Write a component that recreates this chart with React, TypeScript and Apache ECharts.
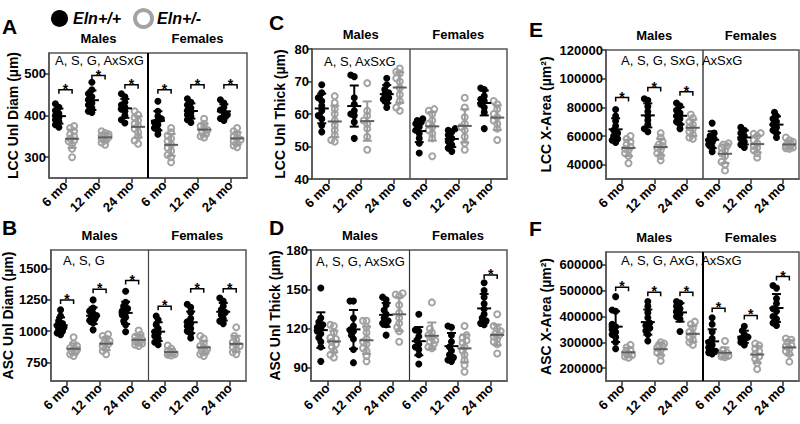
import { useEffect, useRef } from "react";
import * as echarts from "echarts";

// ---------- categories / labels ----------
const ageLabels = ["6 mo", "12 mo", "24 mo", "6 mo", "12 mo", "24 mo"];
const sexLabels = ["Males", "Females"];
const genotypes = ["Eln+/+", "Eln+/-"];

// ---------- Panel A: LCC Unl Diam (µm) ----------
const lccDiamWT = [
  [428, 420, 412, 405, 400, 395, 390, 385, 378, 372],
  [480, 462, 452, 445, 438, 430, 425, 418, 410, 407],
  [452, 445, 432, 425, 420, 415, 410, 400, 390, 382],
  [434, 410, 398, 392, 388, 383, 378, 370, 365, 355],
  [440, 432, 425, 418, 412, 408, 402, 398, 390, 383],
  [438, 430, 420, 413, 408, 402, 398, 393, 388],
];
const lccDiamHet = [
  [375, 370, 362, 355, 350, 345, 340, 338, 330, 320, 300],
  [362, 358, 355, 352, 350, 348, 345, 340, 335, 330],
  [410, 402, 395, 388, 380, 375, 368, 360, 350, 340, 332],
  [370, 360, 352, 345, 338, 330, 322, 315, 305, 300, 288],
  [392, 380, 375, 370, 365, 360, 356, 350, 347],
  [370, 362, 356, 350, 346, 342, 338, 334, 328, 324],
];
const lccDiamSig = [[0, 462], [1, 496], [2, 474], [3, 462], [4, 474], [5, 474]];
const lccDiamTicks = [300, 400, 500];

// ---------- Panel B: ASC Unl Diam (µm) ----------
const ascDiamWT = [
  [1170, 1120, 1080, 1060, 1045, 1030, 1015, 1000, 985, 970],
  [1250, 1185, 1160, 1140, 1125, 1115, 1100, 1085, 1065, 1010],
  [1320, 1230, 1200, 1180, 1160, 1150, 1130, 1110, 1080, 1050, 995],
  [1120, 1090, 1050, 1020, 995, 980, 960, 940, 910, 890],
  [1215, 1190, 1150, 1100, 1075, 1060, 1040, 1020, 1000, 980, 945],
  [1265, 1240, 1200, 1170, 1150, 1130, 1100, 1080, 1060],
];
const ascDiamHet = [
  [950, 900, 880, 865, 855, 850, 840, 830, 815, 800],
  [975, 960, 940, 920, 905, 895, 880, 860, 840, 815],
  [1005, 970, 955, 940, 930, 920, 910, 900, 890, 880],
  [885, 860, 840, 830, 825, 820, 815, 810, 805],
  [960, 940, 900, 880, 865, 855, 845, 830, 815, 800],
  [1030, 960, 930, 910, 895, 880, 870, 855, 830, 815],
];
const ascDiamSig = [[0, 1250], [1, 1335], [2, 1405], [3, 1200], [4, 1340], [5, 1340]];
const ascDiamTicks = [750, 1000, 1250, 1500];

// ---------- Panel C: LCC Unl Thick (µm) ----------
const lccThickWT = [
  [69, 66.5, 65, 64, 62.5, 61, 59.5, 58.5, 56.5, 54.5],
  [72, 71.5, 65, 63, 61, 60, 59.5, 57.5, 52.5],
  [71, 69, 67.5, 66.5, 66, 65, 64.5, 63.5, 62],
  [58.5, 58, 57.5, 57, 56, 55, 54, 52.5, 51, 48],
  [55.5, 55, 54.5, 53.5, 52.5, 51.5, 50.5, 49.5, 48.5],
  [68, 67.5, 65.5, 64.5, 64, 63, 62, 60.5, 55.5],
];
const lccThickHet = [
  [65.5, 63.5, 61.5, 60, 58, 56.5, 55, 53.5, 52, 51.5],
  [69.5, 61, 59.5, 58, 57, 55.5, 53, 49],
  [74, 73, 72.5, 71, 70, 68, 66, 64, 62, 61],
  [61.5, 61, 60, 58, 57, 56, 55, 54, 52.5, 47],
  [65, 62, 59, 57, 56, 55, 53, 51, 49],
  [64, 63, 61.5, 60, 59, 58, 57, 55.5, 52],
];
const lccThickSig: number[][] = [];
const lccThickTicks = [40, 50, 60, 70, 80];

// ---------- Panel D: ASC Unl Thick (µm) ----------
const ascThickWT = [
  [151, 128, 125, 123, 121, 120, 118, 116, 113, 110, 106, 95],
  [141, 141, 128, 122, 119, 118, 115, 112, 104, 94],
  [144, 142, 138, 134, 131, 128, 126, 124, 123, 115],
  [131, 119, 118, 114, 111, 108, 106, 104, 100, 93],
  [122, 121, 115, 110, 106, 103, 100, 98, 96, 95],
  [155, 149, 144, 139, 135, 131, 128, 126, 124, 123],
];
const ascThickHet = [
  [123, 122, 117, 113, 112, 110, 108, 106, 103, 100, 98],
  [126, 126, 121, 117, 112, 110, 108, 105, 103, 99, 95],
  [147, 146, 145, 138, 132, 128, 124, 121, 118, 110],
  [140, 120, 117, 115, 113, 111, 110, 108, 106, 105],
  [122, 115, 113, 111, 109, 106, 103, 100, 96, 92, 87],
  [131, 122, 120, 118, 116, 115, 114, 112, 110, 108, 101],
];
const ascThickSig = [[5, 161]];
const ascThickTicks = [90, 120, 150, 180];

// ---------- Panel E: LCC X-Area (µm²) ----------
const lccAreaWT = [
  [78500, 74000, 70500, 67000, 64000, 62000, 60000, 58000, 57000, 55500],
  [86000, 85000, 80500, 77000, 74000, 71000, 68000, 65000, 63000],
  [83000, 81000, 78000, 76000, 74000, 72000, 70000, 68000, 65000],
  [69000, 62000, 60000, 58000, 57000, 55500, 54000, 52000, 49000],
  [66000, 64000, 62000, 60000, 58000, 56000, 54000, 52000],
  [76500, 74000, 72000, 70000, 68000, 66000, 64000, 62000, 59000],
];
const lccAreaHet = [
  [60000, 58000, 56000, 54000, 52500, 51000, 50000, 48000, 46000, 41000],
  [62000, 59000, 56000, 54000, 53000, 52000, 50000, 48000, 46000, 43000],
  [75000, 72500, 70000, 68000, 66000, 65000, 63000, 61000, 59000, 58000],
  [55000, 54000, 53000, 52000, 50000, 48000, 46000, 42000, 40000, 36000],
  [62000, 61500, 60000, 57000, 55000, 53000, 52000, 50000, 48000, 45000],
  [59000, 57000, 56000, 55000, 54000, 53000, 52500, 52000, 51500, 51000],
];
const lccAreaSig = [[0, 86800], [1, 93800], [2, 90800]];
const lccAreaTicks = [40000, 60000, 80000, 100000, 120000];

// ---------- Panel F: ASC X-Area (µm²) ----------
const ascAreaWT = [
  [477000, 425000, 420000, 370000, 360000, 350000, 340000, 330000, 320000, 300000, 275000],
  [458000, 440000, 415000, 395000, 375000, 365000, 355000, 345000, 330000, 305000],
  [458000, 452000, 440000, 430000, 420000, 410000, 400000, 390000, 342000],
  [395000, 370000, 340000, 315000, 300000, 290000, 280000, 270000, 265000, 260000, 255000],
  [362000, 345000, 330000, 320000, 315000, 310000, 300000, 290000],
  [520000, 510000, 470000, 450000, 430000, 420000, 400000, 390000, 375000, 365000],
];
const ascAreaHet = [
  [290000, 280000, 270000, 260000, 255000, 250000, 245000, 240000],
  [300000, 295000, 290000, 285000, 280000, 270000, 260000, 250000, 228000],
  [380000, 370000, 355000, 340000, 330000, 320000, 310000, 300000, 290000],
  [305000, 270000, 260000, 255000, 250000, 248000, 245000, 242000],
  [295000, 288000, 275000, 265000, 255000, 245000, 235000, 220000, 196000],
  [315000, 310000, 300000, 290000, 285000, 275000, 265000, 255000, 225000],
];
const ascAreaSig = [[0, 513000], [1, 494000], [2, 494000], [3, 432000], [4, 404000], [5, 555000]];
const ascAreaTicks = [200000, 300000, 400000, 500000, 600000];

// ---------- layout (positions / styles) ----------
const FONT = "'Liberation Sans', Arial, sans-serif";
const BLACK = "#000000";
const GRAY = "#a3a3a3";

type PanelLayout = {
  letter: string; lx: number; ly: number;
  grid: { left: number; top: number; width: number; height: number };
  min: number; max: number; nameGap: number; title: string;
  stats: string; sx: number; sy: number;
  divColor: string; divWidth: number;
};

const layouts: PanelLayout[] = [
  { letter: "A", lx: 2, ly: 16, grid: { left: 49, top: 53, width: 198, height: 125 }, min: 250, max: 550, nameGap: 28, title: "LCC Unl Diam (µm)", stats: "A, S, G, AxSxG", sx: 55, sy: 60, divColor: "#000", divWidth: 2 },
  { letter: "B", lx: 2, ly: 217, grid: { left: 49, top: 250, width: 197, height: 131 }, min: 600, max: 1650, nameGap: 35, title: "ASC Unl Diam (µm)", stats: "A, S, G", sx: 63, sy: 260, divColor: "#444", divWidth: 1.2 },
  { letter: "C", lx: 269, ly: 12, grid: { left: 312, top: 49, width: 195, height: 130 }, min: 40, max: 80, nameGap: 25, title: "LCC Unl Thick (µm)", stats: "A, S, AxSxG", sx: 324, sy: 61, divColor: "#555", divWidth: 1.5 },
  { letter: "D", lx: 269, ly: 217, grid: { left: 311, top: 250, width: 196, height: 131 }, min: 80, max: 180, nameGap: 28, title: "ASC Unl Thick (µm)", stats: "A, S, G, AxSxG", sx: 316, sy: 261, divColor: "#333", divWidth: 1.2 },
  { letter: "E", lx: 529, ly: 19, grid: { left: 606, top: 50, width: 193, height: 129 }, min: 30000, max: 120000, nameGap: 53, title: "LCC X-Area (µm²)", stats: "A, S, G, SxG, AxSxG", sx: 621, sy: 60, divColor: "#444", divWidth: 1.5 },
  { letter: "F", lx: 529, ly: 218, grid: { left: 606, top: 252, width: 193, height: 129 }, min: 150000, max: 650000, nameGap: 53, title: "ASC X-Area (µm²)", stats: "A, S, G, AxG, AxSxG", sx: 621, sy: 260, divColor: "#000", divWidth: 2 },
];

const wtData = [lccDiamWT, ascDiamWT, lccThickWT, ascThickWT, lccAreaWT, ascAreaWT];
const hetData = [lccDiamHet, ascDiamHet, lccThickHet, ascThickHet, lccAreaHet, ascAreaHet];
const sigData = [lccDiamSig, ascDiamSig, lccThickSig, ascThickSig, lccAreaSig, ascAreaSig];
const tickData = [lccDiamTicks, ascDiamTicks, lccThickTicks, ascThickTicks, lccAreaTicks, ascAreaTicks];

const OFFSET = 0.2; // genotype offset within an age group (x units)

function mean(a: number[]) {
  return a.reduce((s, v) => s + v, 0) / a.length;
}
function sd(a: number[]) {
  const m = mean(a);
  return Math.sqrt(a.reduce((s, v) => s + (v - m) * (v - m), 0) / (a.length - 1));
}

// compact beeswarm: small horizontal jitter only where points overlap
function swarm(values: number[], center: number, pxX: number, pxY: number) {
  const sorted = [...values].sort((a, b) => a - b);
  const placed: { x: number; y: number }[] = [];
  const out: number[][] = [];
  const dist = 4;
  const cands = [0, -2, 2, -3.5, 3.5];
  for (const v of sorted) {
    const py = v * pxY;
    let chosen = 0;
    let best = -1;
    for (const off of cands) {
      const dmin = placed.length ? Math.min(...placed.map((p) => Math.hypot(p.x - off, p.y - py))) : 99;
      if (dmin >= dist) { chosen = off; best = dmin; break; }
      if (dmin > best) { best = dmin; chosen = off; }
    }
    placed.push({ x: chosen, y: py });
    out.push([center + chosen / pxX, v]);
  }
  return out;
}

function errorBarRender(sdColor: string, meanColor: string) {
  return (_params: any, api: any) => {
    const x = api.value(0);
    const m = api.value(1);
    const s = api.value(2);
    const c = api.coord([x, m]);
    const t = api.coord([x, m + s]);
    const b = api.coord([x, m - s]);
    const st = { stroke: sdColor, lineWidth: 2 };
    return {
      type: "group",
      children: [
        { type: "line", shape: { x1: c[0], y1: t[1], x2: c[0], y2: b[1] }, style: st },
        { type: "line", shape: { x1: c[0] - 4.5, y1: t[1], x2: c[0] + 4.5, y2: t[1] }, style: st },
        { type: "line", shape: { x1: c[0] - 4.5, y1: b[1], x2: c[0] + 4.5, y2: b[1] }, style: st },
        { type: "line", shape: { x1: c[0] - 7, y1: c[1], x2: c[0] + 7, y2: c[1] }, style: { stroke: meanColor, lineWidth: 2 } },
      ],
    };
  };
}

function bracketRender(_params: any, api: any) {
  const a = api.coord([api.value(0), api.value(2)]);
  const b = api.coord([api.value(1), api.value(2)]);
  return {
    type: "group",
    children: [
      {
        type: "polyline",
        shape: { points: [[a[0], a[1] + 4], [a[0], a[1]], [b[0], b[1]], [b[0], b[1] + 4]] },
        style: { stroke: "#000", lineWidth: 1.5, fill: "none" },
      },
      {
        type: "text",
        x: (a[0] + b[0]) / 2,
        y: a[1] - 1,
        style: { text: "*", textAlign: "center", textVerticalAlign: "middle", align: "center", verticalAlign: "middle", font: `bold 14px ${FONT}`, fill: "#000" },
      },
    ],
  };
}

function buildOption() {
  const grid: any[] = [];
  const xAxis: any[] = [];
  const yAxis: any[] = [];
  const series: any[] = [];
  const graphic: any[] = [];

  layouts.forEach((L, p) => {
    grid.push({ ...L.grid, show: true, borderColor: "#555", borderWidth: 1.5, backgroundColor: "transparent" });
    const pxX = L.grid.width / 6;
    const pxY = L.grid.height / (L.max - L.min);

    xAxis.push({
      type: "category", gridIndex: p, position: "bottom", data: ageLabels, boundaryGap: true,
      axisLine: { show: true, lineStyle: { color: "#555", width: 1.5 } },
      axisTick: { show: true, alignWithLabel: true, length: 5, lineStyle: { color: "#333", width: 1.5 } },
      axisLabel: { interval: 0, rotate: 45, fontWeight: "bold", fontSize: 13, color: "#000", margin: 5, fontFamily: FONT },
    });
    xAxis.push({ type: "value", gridIndex: p, min: 0, max: 6, show: false });
    xAxis.push({
      type: "category", gridIndex: p, position: "top", data: sexLabels, boundaryGap: true,
      axisLine: { show: false }, axisTick: { show: false },
      axisLabel: { fontWeight: "bold", fontSize: 13, color: "#000", margin: 8, fontFamily: FONT },
    });
    yAxis.push({
      type: "value", gridIndex: p, min: L.min, max: L.max,
      axisLine: { show: true, lineStyle: { color: "#555", width: 1.5 } },
      axisTick: { show: true, length: 4, customValues: tickData[p], lineStyle: { color: "#333", width: 1.5 } },
      axisLabel: { customValues: tickData[p], fontWeight: "bold", fontSize: 13, color: "#000", margin: 3, fontFamily: FONT, formatter: (v: number) => String(v) },
      splitLine: { show: false },
      name: L.title, nameLocation: "middle", nameGap: L.nameGap,
      nameTextStyle: { fontWeight: "bold", fontSize: 14, color: "#000", fontFamily: FONT },
    });

    const xi = p * 3 + 1;
    const wtPts: number[][] = [];
    const hetPts: number[][] = [];
    const wtBars: number[][] = [];
    const hetBars: number[][] = [];
    wtData[p].forEach((g, i) => {
      const cx = i + 0.5 - OFFSET;
      wtPts.push(...swarm(g, cx, pxX, pxY));
      wtBars.push([cx, mean(g), sd(g)]);
    });
    hetData[p].forEach((g, i) => {
      const cx = i + 0.5 + OFFSET;
      hetPts.push(...swarm(g, cx, pxX, pxY));
      hetBars.push([cx, mean(g), sd(g)]);
    });

    series.push({
      type: "scatter", name: genotypes[0], xAxisIndex: xi, yAxisIndex: p, data: wtPts,
      symbol: "circle", symbolSize: 7, itemStyle: { color: BLACK, opacity: 1 }, z: 3,
      markLine: {
        silent: true, symbol: "none", animation: false,
        label: { show: false },
        lineStyle: { color: L.divColor, width: L.divWidth, type: "solid" },
        data: [{ xAxis: 3 }],
      },
    });
    series.push({
      type: "scatter", name: genotypes[1], xAxisIndex: xi, yAxisIndex: p, data: hetPts,
      symbol: "circle", symbolSize: 6,
      itemStyle: { color: "rgba(255,255,255,0)", borderColor: GRAY, borderWidth: 2, opacity: 1 }, z: 3,
    });
    series.push({
      type: "custom", xAxisIndex: xi, yAxisIndex: p, data: wtBars, encode: { x: 0, y: 1 },
      renderItem: errorBarRender("#000", "#000"), z: 5, silent: true,
    });
    series.push({
      type: "custom", xAxisIndex: xi, yAxisIndex: p, data: hetBars, encode: { x: 0, y: 1 },
      renderItem: errorBarRender("#9a9a9a", "#5e5e5e"), z: 5, silent: true,
    });
    if (sigData[p].length) {
      series.push({
        type: "custom", xAxisIndex: xi, yAxisIndex: p,
        data: sigData[p].map(([i, y]) => [i + 0.5 - OFFSET, i + 0.5 + OFFSET, y]),
        encode: { x: 0, y: 2 }, renderItem: bracketRender, z: 6, silent: true,
      });
    }

    graphic.push({
      type: "text", left: L.lx, top: L.ly,
      style: { text: L.letter, font: `bold 21px ${FONT}`, fill: "#000" },
    });
    graphic.push({
      type: "text", x: L.sx, y: L.sy,
      style: { text: L.stats, font: `13px ${FONT}`, fill: "#000", textVerticalAlign: "middle", verticalAlign: "middle" },
      z: 10,
    });
  });

  return {
    animation: false,
    backgroundColor: "#ffffff",
    textStyle: { fontFamily: FONT },
    legend: {
      left: 46, top: 3, itemWidth: 17, itemHeight: 17, itemGap: 12,
      textStyle: { fontWeight: "bold", fontStyle: "italic", fontSize: 16, color: "#000", fontFamily: FONT },
      data: [
        { name: genotypes[0], icon: "circle", itemStyle: { color: BLACK } },
        { name: genotypes[1], icon: "circle", itemStyle: { color: "rgba(255,255,255,0)", borderColor: GRAY, borderWidth: 4 } },
      ],
      selectedMode: false,
    },
    grid, xAxis, yAxis, series, graphic,
  };
}

export default function App() {
  const ref = useRef<HTMLDivElement>(null);
  useEffect(() => {
    if (!ref.current) return;
    const chart = echarts.init(ref.current, null, { renderer: "svg" });
    chart.setOption(buildOption() as any);
    return () => chart.dispose();
  }, []);
  return (
    <div
      ref={ref}
      style={{ position: "absolute", left: 0, top: 0, width: 800, height: 424, background: "#fff" }}
    />
  );
}
